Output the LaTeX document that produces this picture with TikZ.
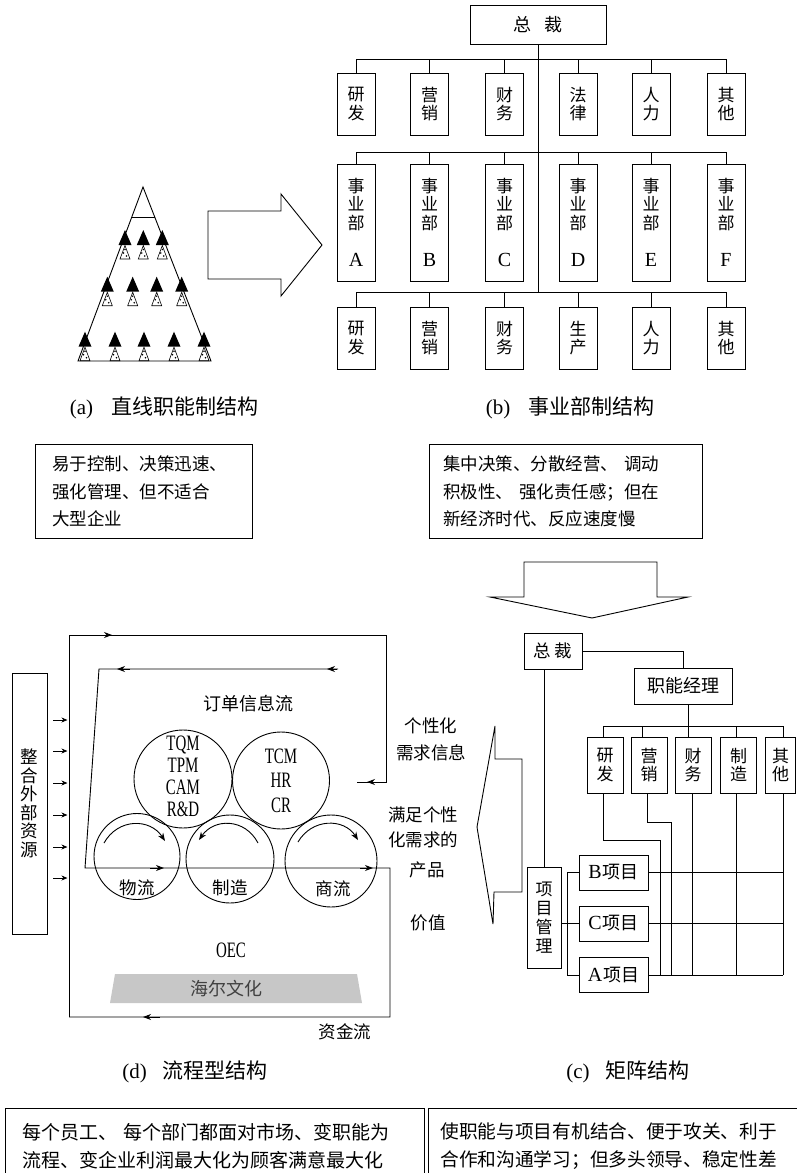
\documentclass[tikz,border=0pt]{standalone}
\usepackage{fontspec}
\setmainfont{Liberation Serif}
\newfontfamily\cjk{Noto Sans CJK SC}
\newfontfamily\cond[FakeStretch=0.68]{Liberation Serif}
\usetikzlibrary{arrows.meta}
\begin{document}
\begin{tikzpicture}[x=1pt,y=-1pt,line width=0.9pt,
  >={Stealth[length=8pt,width=6pt]},
  ob/.style={draw, inner sep=0pt, minimum width=38pt, align=center, font=\cjk\fontsize{17}{18.5}\selectfont},
  mb/.style={draw, inner sep=0pt, minimum width=36pt, minimum height=56pt, align=center, font=\cjk\fontsize{17}{18.5}\selectfont},
  pb/.style={draw, inner sep=0pt, minimum width=69pt, minimum height=35pt, font=\fontsize{20}{20}\selectfont},
  lbl/.style={inner sep=0pt, align=center, font=\cjk\fontsize{17.5}{19}\selectfont},
  captext/.style={inner sep=0pt, font=\fontsize{21}{23}\selectfont},
  tbox/.style={draw, anchor=north west, inner ysep=0pt, align=left},
  latin/.style={inner sep=0pt, align=center, font=\cond\fontsize{22}{22}\selectfont},
  smallarrow/.style={-{Stealth[length=6pt,width=5pt]}},
  person/.pic={
    \fill (-6.5,0) -- (0,-15) -- (6.5,0) -- cycle;
    \draw[line width=0.6pt] (-5,14) -- (0,0.5) -- (5,14) -- cycle;
    \fill (-1.5,8) circle (0.9) (1.5,11) circle (0.9) (0,4.5) circle (0.8);
  }]
\useasboundingbox (0,0) rectangle (796,1173);

% ================= (a) pyramid =================
\draw (143,187) -- (78,361) -- (211,361) -- cycle;
\draw (132,217) -- (155,217);
\foreach \x in {125,143.3,162.3} \pic at (\x,245) {person};
\foreach \x in {107.3,132.7,156.7,181.7} \pic at (\x,291.7) {person};
\foreach \x in {85,115,144,174,204} \pic at (\x,346.7) {person};

% big right arrow
\draw (208,211) -- (281,211) -- (281,194) -- (322,245) -- (281,296) -- (281,279) -- (208,279) -- cycle;

% ================= (b) divisional =================
\node[draw, inner sep=0pt, minimum width=136pt, minimum height=39pt, font=\cjk\fontsize{18}{20}\selectfont] (ceo) at (538,24.5) {总\hspace{14pt}裁};

\node[ob, minimum height=62pt] (r1a) at (356,104) {研\\发};
\node[ob, minimum height=62pt] (r1b) at (429.5,104) {营\\销};
\node[ob, minimum height=62pt] (r1c) at (504.5,104) {财\\务};
\node[ob, minimum height=62pt] (r1d) at (578,104) {法\\律};
\node[ob, minimum height=62pt] (r1e) at (651,104) {人\\力};
\node[ob, minimum height=62pt] (r1f) at (726,104) {其\\他};

\node[ob, minimum height=117pt] (r2a) at (356,222.5) {事\\业\\部\\[19pt]{\rmfamily\fontsize{20}{20}\selectfont A}};
\node[ob, minimum height=117pt] (r2b) at (429.5,222.5) {事\\业\\部\\[19pt]{\rmfamily\fontsize{20}{20}\selectfont B}};
\node[ob, minimum height=117pt] (r2c) at (504.5,222.5) {事\\业\\部\\[19pt]{\rmfamily\fontsize{20}{20}\selectfont C}};
\node[ob, minimum height=117pt] (r2d) at (578,222.5) {事\\业\\部\\[19pt]{\rmfamily\fontsize{20}{20}\selectfont D}};
\node[ob, minimum height=117pt] (r2e) at (651,222.5) {事\\业\\部\\[19pt]{\rmfamily\fontsize{20}{20}\selectfont E}};
\node[ob, minimum height=117pt] (r2f) at (726,222.5) {事\\业\\部\\[19pt]{\rmfamily\fontsize{20}{20}\selectfont F}};

\node[ob, minimum height=62pt] (r3a) at (356,338) {研\\发};
\node[ob, minimum height=62pt] (r3b) at (429.5,338) {营\\销};
\node[ob, minimum height=62pt] (r3c) at (504.5,338) {财\\务};
\node[ob, minimum height=62pt] (r3d) at (578,338) {生\\产};
\node[ob, minimum height=62pt] (r3e) at (651,338) {人\\力};
\node[ob, minimum height=62pt] (r3f) at (726,338) {其\\他};

\draw (ceo.south) -- ++(0,249);
\draw (r1a.north) -- ++(0,-13) -| (r1f.north);
\foreach \n in {r1b,r1c,r1d,r1e} \draw (\n.north) -- ++(0,-13);
\draw (r2a.north) -- ++(0,-11.5) -| (r2f.north);
\foreach \n in {r2b,r2c,r2d,r2e} \draw (\n.north) -- ++(0,-11.5);
\draw (r3a.north) -- ++(0,-14) -| (r3f.north);
\foreach \n in {r3b,r3c,r3d,r3e} \draw (\n.north) -- ++(0,-14);

% captions a, b
\node[captext] (capa) at (164,408) {(a)\hspace{18pt}{\cjk 直线职能制结构}};
\node[captext] (capb) at (570,408) {(b)\hspace{18pt}{\cjk 事业部制结构}};

% comment boxes
\node[tbox, minimum width=217pt, minimum height=94pt, text width=183pt, inner xsep=17pt, font=\cjk\fontsize{17.5}{27.5}\selectfont] (boxa) at (35,444) {易于控制、决策迅速、\\强化管理、但不适合\\大型企业};
\node[tbox, minimum width=273pt, minimum height=94pt, text width=245pt, inner xsep=14pt, font=\cjk\fontsize{17.5}{27.5}\selectfont] (boxb) at (429,444) {集中决策、分散经营、 调动\\积极性、 强化责任感；但在\\新经济时代、反应速度慢};

% down arrow
\draw (524,562) -- (657,562) -- (657,597) -- (688,597) -- (592,618) -- (490,597) -- (524,597) -- cycle;

% ================= (d) process =================
\node[draw, inner sep=0pt, minimum width=35pt, minimum height=261pt, align=center, font=\cjk\fontsize{17.5}{18.5}\selectfont] (ext) at (29.5,803.5) {整\\合\\外\\部\\资\\源};
\foreach \y in {720,751,783,815,847,878} \draw[smallarrow] ([xshift=6pt]ext.east |- 0,\y) -- ++(14,0);

% outer loop
\draw (69,1017) -- (69,635) -- (386,635) -- (386,782) -- (357,782);
\draw[->] (95,635) -- (112,635);
\draw[->] (380,782) -- (367,782);
% inner loop
\draw (338,669) -- (99,669) -- (85,868) -- (390,868) -- (390,1017) -- (69,1017);
\draw[->] (337,669) -- (327,669);
\draw[->] (130,669) -- (117,669);
\draw[->] (150,868) -- (164,868);
\draw[->] (360,868) -- (373,868);
\draw[->] (160,1017) -- (143,1017);

% circles
\node[circle, draw, minimum size=98pt, inner sep=0pt] (c1) at (183,779) {};
\node[circle, draw, minimum size=97pt, inner sep=0pt] (c2) at (281,780.5) {};
\node[circle, draw, minimum size=86pt, inner sep=0pt] (c3) at (137,856.5) {};
\node[circle, draw, minimum size=88pt, inner sep=0pt] (c4) at (230,859) {};
\node[circle, draw, minimum size=92pt, inner sep=0pt] (c5) at (331,861) {};
\node[latin] at (183,776.5) {TQM\\TPM\\CAM\\R\&D};
\node[latin, font=\cond\fontsize{22}{24.5}\selectfont] at (281,780.5) {TCM\\HR\\CR};
\draw[->] (104,843) .. controls (118,818) and (150,818) .. (165,841);
\draw[->] (258,843) .. controls (245,818) and (214,818) .. (199,840);
\draw[->] (298,842) .. controls (312,818) and (344,818) .. (358,840);
\node[lbl] at (137,888) {物流};
\node[lbl] at (230,888) {制造};
\node[lbl] at (333,889) {商流};
\node[lbl, font=\cjk\fontsize{18}{20}\selectfont] at (248,704) {订单信息流};
\node[latin] at (231,950) {OEC};
\fill[black!22] (115,974) -- (357,974) -- (362,1003) -- (110,1003) -- cycle;
\node[lbl, text=black!75, font=\cjk\fontsize{18}{20}\selectfont] at (226,989) {海尔文化};
\node[lbl] at (345,1032) {资金流};

% middle labels
\node[lbl] at (431,726) {个性化};
\node[lbl] at (431,753) {需求信息};
\node[lbl] at (423,815) {满足个性};
\node[lbl] at (423,840) {化需求的};
\node[lbl] at (427,870) {产品};
\node[lbl] at (428,923) {价值};
\draw (495,726) -- (477,827) -- (493,924) -- (494,892) -- (522,892) -- (522,759) -- (495,759) -- cycle;

% ================= (c) matrix =================
\node[draw, inner sep=0pt, minimum width=58pt, minimum height=36pt, font=\cjk\fontsize{17.5}{19}\selectfont] (ceo2) at (553,651) {总\hspace{4pt}裁};
\node[draw, inner sep=0pt, minimum width=98pt, minimum height=36pt, font=\cjk\fontsize{18}{19}\selectfont] (fm) at (683.5,686) {职能经理};
\node[mb] (f1) at (605,765) {研\\发};
\node[mb] (f2) at (649,765) {营\\销};
\node[mb] (f3) at (693,765) {财\\务};
\node[mb] (f4) at (738.5,765) {制\\造};
\node[mb, minimum width=30pt] (f5) at (780.5,765) {其\\他};

\draw (ceo2.east) -| (fm.north);
\coordinate (mbus) at (688,727);
\draw ([xshift=4.5pt]fm.south) -- (mbus);
\draw ([xshift=-2pt]f1.north) -- ++(0,-10) -| ([xshift=2.5pt]f5.north);
\draw ([xshift=-7pt]f2.north) -- ++(0,-10);
\draw ([xshift=-5pt]f3.north) -- ++(0,-10);
\draw ([xshift=-2.5pt]f4.north) -- ++(0,-10);

\node[pb] (pB) at (613.5,872.5) {B\hspace{1pt}{\cjk\fontsize{18}{18}\selectfont 项目}};
\node[pb] (pC) at (613.5,923.5) {C\hspace{1pt}{\cjk\fontsize{18}{18}\selectfont 项目}};
\node[pb] (pA) at (613.5,975) {A\hspace{1pt}{\cjk\fontsize{18}{18}\selectfont 项目}};
\node[draw, inner sep=0pt, minimum width=34pt, minimum height=101pt, align=center, font=\cjk\fontsize{17}{19}\selectfont] (pm) at (544,917.5) {项\\目\\管\\理};

\draw (pm.north) -- (pm.north |- ceo2.south);
\draw (pm.east |- pC.west) -- (pC.west);
\draw ([xshift=6pt]pm.east |- pB.west) -- (pB.west);
\draw ([xshift=6pt]pm.east |- pB.west) -- ([xshift=6pt]pm.east |- pA.west) -- (pA.west);

\coordinate (gridR) at (783,0);
\draw (pB.east) -- (pB.east -| gridR);
\draw (pC.east) -- (pC.east -| gridR);
\draw (pA.east) -- (pA.east -| gridR);

\draw ([xshift=-2pt]f1.south) |- (660,840) -- (660,975);
\draw ([xshift=-2pt]f2.south) |- (671,822) -- (671,975);
\draw ([xshift=-1pt]f3.south) -- ([xshift=-1pt]f3.south |- pA.east);
\draw ([xshift=-2.5pt]f4.south) -- ([xshift=-2.5pt]f4.south |- pA.east);
\draw ([xshift=2.5pt]f5.south) -- ([xshift=2.5pt]f5.south |- pA.east);

% captions c, d
\node[captext] (capd) at (195,1072) {(d)\hspace{16pt}{\cjk 流程型结构}};
\node[captext] (capc) at (628,1072) {(c)\hspace{16pt}{\cjk 矩阵结构}};

% bottom boxes
\node[tbox, minimum width=407pt, minimum height=75pt, text width=385pt, inner xsep=17pt, font=\cjk\fontsize{19}{28}\selectfont] (boxd) at (5,1108) {每个员工、 每个部门都面对市场、变职能为\\流程、变企业利润最大化为顾客满意最大化};
\node[tbox, minimum width=367pt, minimum height=75pt, text width=350pt, inner xsep=12pt, font=\cjk\fontsize{18.7}{28}\selectfont] (boxc) at (428,1108) {使职能与项目有机结合、便于攻关、利于\\合作和沟通学习；但多头领导、稳定性差};
\end{tikzpicture}
\end{document}
